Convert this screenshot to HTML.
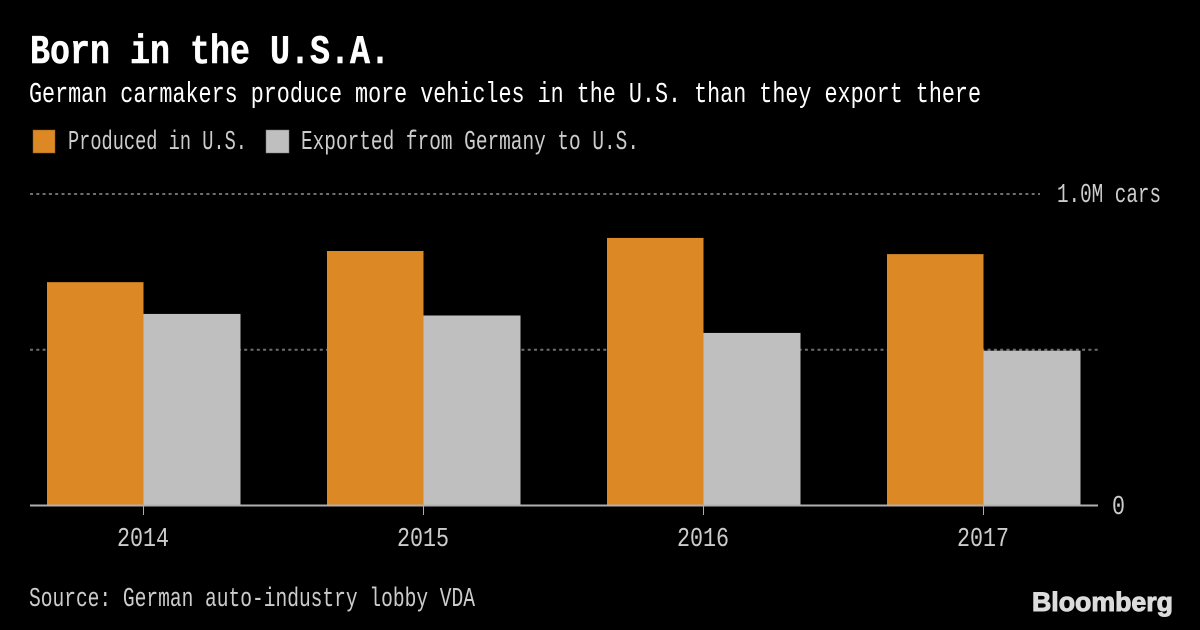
<!DOCTYPE html>
<html lang="en">
<head>
<meta charset="utf-8">
<title>Born in the U.S.A.</title>
<style>
html,body{margin:0;padding:0;background:#000;width:1200px;height:630px;overflow:hidden}
svg{display:block}
text{font-family:"Liberation Mono","DejaVu Sans Mono",monospace}
</style>
</head>
<body>
<svg id="chart" xmlns="http://www.w3.org/2000/svg" width="1200" height="630" viewBox="0 0 1200 630">
<rect width="1200" height="630" fill="#000"/>
<text x="30" y="63" fill="#fff" stroke="#fff" stroke-width="0.5" font-size="41" font-weight="700" textLength="360" lengthAdjust="spacingAndGlyphs">Born in the U.S.A.</text>
<text x="29" y="102" fill="#fff" font-size="29" textLength="952" lengthAdjust="spacingAndGlyphs">German carmakers produce more vehicles in the U.S. than they export there</text>
<rect x="33" y="130" width="22" height="23" fill="#dc8925" stroke="#8a5a20" stroke-width="0.5"/>
<text x="68" y="149" fill="#cccccc" font-size="27" textLength="179" lengthAdjust="spacingAndGlyphs">Produced in U.S.</text>
<rect x="266" y="130" width="23" height="23" fill="#bfbfbf" stroke="#777" stroke-width="0.5"/>
<text x="301" y="149" fill="#cccccc" font-size="27" textLength="338" lengthAdjust="spacingAndGlyphs">Exported from Germany to U.S.</text>
<g id="plot"></g>
<text x="29" y="606" fill="#cccccc" font-size="27" textLength="446" lengthAdjust="spacingAndGlyphs">Source: German auto-industry lobby VDA</text>
<text x="1032" y="611" fill="#dcdcdc" stroke="#dcdcdc" stroke-width="1" font-size="27" font-weight="700" textLength="141" lengthAdjust="spacingAndGlyphs" style="font-family:'Liberation Sans',sans-serif">Bloomberg</text>
</svg>
<script>
const categories = ["2014", "2015", "2016", "2017"];
const producedInUS = [0.717, 0.817, 0.859, 0.807];
const exportedFromGermany = [0.615, 0.610, 0.554, 0.497];
const gridValues = [0.5, 1.0];
const yTickLabels = ["0", "1.0M cars"];

const NS = "http://www.w3.org/2000/svg";
const plot = document.getElementById("plot");
const y = v => 505.5 - v * 311.5;
const xCenter = i => 143.5 + i * 280;
const BAR_W = 96.5;

function make(tag, attrs, parent) {
  const el = document.createElementNS(NS, tag);
  for (const k in attrs) el.setAttribute(k, attrs[k]);
  parent.appendChild(el);
  return el;
}

gridValues.forEach(function (v) {
  const line = make("line", {x1: 30, x2: v === 1 ? 1040 : 1098, y1: y(v), y2: y(v), stroke: "#6e6e6e", "stroke-width": 2, "stroke-dasharray": "3 3.3"}, plot);
  
  
});

categories.forEach(function (c, i) {
  const a = make("rect", {x: xCenter(i) - BAR_W, y: y(producedInUS[i]), width: BAR_W, height: y(0) - y(producedInUS[i]), fill: "#dc8925"}, plot);
  
  
  const b = make("rect", {x: xCenter(i), y: y(exportedFromGermany[i]), width: BAR_W + 0.5, height: y(0) - y(exportedFromGermany[i]), fill: "#bfbfbf"}, plot);
  
  
  const t = make("line", {x1: xCenter(i), x2: xCenter(i), y1: y(0), y2: 515, stroke: "#b0b0b0", "stroke-width": 1}, plot);
  
  
  const l = make("text", {x: xCenter(i) - 0.5, y: 546, fill: "#cccccc", "font-size": 27, "text-anchor": "middle", textLength: 52, lengthAdjust: "spacingAndGlyphs"}, plot);
  l.textContent = c;
  
  
});

const axis = make("line", {x1: 30, x2: 1098, y1: y(0), y2: y(0), stroke: "#b0b0b0", "stroke-width": 2}, plot);



const zero = make("text", {x: 1112, y: 514, fill: "#cccccc", "font-size": 27, textLength: 13, lengthAdjust: "spacingAndGlyphs"}, plot);
zero.textContent = yTickLabels[0];



const top1 = make("text", {x: 1057, y: 202, fill: "#cccccc", "font-size": 27, textLength: 104, lengthAdjust: "spacingAndGlyphs"}, plot);
top1.textContent = yTickLabels[1];


</script>
</body>
</html>
